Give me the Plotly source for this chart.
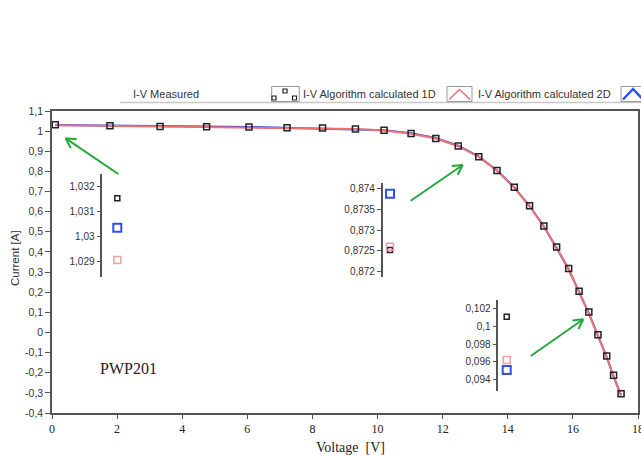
import math
import plotly.graph_objects as go

# ---- data -------------------------------------------------------------
voltage = [0.10, 1.78, 3.32, 4.75, 6.05, 7.22, 8.31, 9.32, 10.20, 11.03, 11.79, 12.48,
           13.11, 13.67, 14.20, 14.67, 15.11, 15.50, 15.87, 16.19, 16.49, 16.77, 17.04,
           17.25, 17.48]
current_measured = [1.03151, 1.027, 1.023, 1.022, 1.020, 1.017, 1.016, 1.011, 1.004, 0.988,
                    0.964, 0.926, 0.87252, 0.805, 0.721, 0.630, 0.529, 0.424, 0.318, 0.205,
                    0.10109, -0.011, -0.117, -0.213, -0.305]
current_1d = [1.02907, 1.026, 1.023, 1.020, 1.018, 1.016, 1.014, 1.010, 1.003, 0.987,
              0.963, 0.925, 0.87260, 0.804, 0.720, 0.628, 0.527, 0.421, 0.315, 0.201,
              0.09619, -0.016, -0.122, -0.218, -0.311]
current_2d = [1.03035, 1.029, 1.025, 1.023, 1.021, 1.017, 1.015, 1.011, 1.005, 0.990,
              0.966, 0.928, 0.87387, 0.805, 0.720, 0.628, 0.526, 0.420, 0.314, 0.200,
              0.09505, -0.017, -0.123, -0.219, -0.312]

series_names = ["I-V Measured", "I-V Algorithm calculated 1D", "I-V Algorithm calculated 2D"]

# close-up values (measured, 1D, 2D) at three points of the curve
detail_short_circuit = [1.03151, 1.02907, 1.03035]
detail_knee = [0.87252, 0.87260, 0.87387]
detail_tail = [0.10109, 0.09619, 0.09505]

x_ticks = list(range(0, 19, 2))
x_tick_text = [str(v) for v in x_ticks]
y_ticks = [-0.4, -0.3, -0.2, -0.1, 0, 0.1, 0.2, 0.3, 0.4, 0.5, 0.6, 0.7, 0.8, 0.9, 1.0, 1.1]
y_tick_text = ["-0,4", "-0,3", "-0,2", "-0,1", "0", "0,1", "0,2", "0,3", "0,4", "0,5",
               "0,6", "0,7", "0,8", "0,9", "1", "1,1"]
detail1_ticks = [1.029, 1.030, 1.031, 1.032]
detail1_text = ["1,029", "1,03", "1,031", "1,032"]
detail2_ticks = [0.872, 0.8725, 0.873, 0.8735, 0.874]
detail2_text = ["0,872", "0,8725", "0,873", "0,8735", "0,874"]
detail3_ticks = [0.094, 0.096, 0.098, 0.100, 0.102]
detail3_text = ["0,094", "0,096", "0,098", "0,1", "0,102"]

# ---- geometry helpers ----------------------------------------------------
W, H = 641, 455
L, R, T, B = 52, 638, 111, 413


def px(x):
    return (x - L) / (R - L)


def py(y):
    return (B - y) / (B - T)


SANS = "Liberation Sans"
SERIF = "Liberation Serif"
AX = "#555555"
TXT = "#333333"
RED = "#f07070"
BLUE = "#2f4ff0"
PINK = "#f0a0a0"
GREEN = "#22a83a"

fig = go.Figure()

fig.add_trace(go.Scatter(x=voltage, y=current_2d, mode="lines", name=series_names[2],
                         line=dict(color=BLUE, width=2), showlegend=False))
fig.add_trace(go.Scatter(x=voltage, y=current_1d, mode="lines", name=series_names[1],
                         line=dict(color=RED, width=2), showlegend=False))
fig.add_trace(go.Scatter(x=voltage, y=current_measured, mode="markers", name=series_names[0],
                         marker=dict(symbol="square-open", size=6, color="#222222",
                                     line=dict(width=1.5)), showlegend=False))

# close-up axes: (values, xaxis id, yaxis id, axis x px, marker offset px, top px, bottom px, ticks, texts)
details = [
    (detail_short_circuit, "x2", "y2", 102.3, 15.0, 174, 277, detail1_ticks, detail1_text),
    (detail_knee, "x3", "y3", 382.7, 7.3, 182.7, 276.7, detail2_ticks, detail2_text),
    (detail_tail, "x4", "y4", 498.3, 8.4, 300, 390.7, detail3_ticks, detail3_text),
]
# pixel positions of the outer tick values, used to get each close-up's range
tick_px = [(186.0, 261.7), (188.3, 271.7), (308.7, 379.3)]

marker_styles = [
    dict(symbol="square-open", size=5, color="#222222", line=dict(width=1.5)),
    dict(symbol="square-open", size=7, color=PINK, line=dict(width=1.5)),
    dict(symbol="square-open", size=8, color=BLUE, line=dict(width=2)),
]

layout_axes = {}
for i, (vals, xa, ya, axpx, off, top, bot, tv, tt) in enumerate(details):
    for j, v in enumerate(vals):
        fig.add_trace(go.Scatter(x=[0.5], y=[v], xaxis=xa, yaxis=ya, mode="markers",
                                 marker=marker_styles[j], showlegend=False,
                                 name=series_names[j]))
    hi_px, lo_px = tick_px[i]
    hi_v, lo_v = tv[-1], tv[0]
    per_px = (hi_v - lo_v) / (lo_px - hi_px)
    rng = [lo_v - (bot - lo_px) * per_px, hi_v + (hi_px - top) * per_px]
    n = xa[1:]
    layout_axes["xaxis" + n] = dict(domain=[px(axpx), px(axpx + 2 * off)], range=[0, 1],
                                    visible=False, anchor=ya)
    layout_axes["yaxis" + n] = dict(domain=[py(bot), py(top)], range=rng, anchor=xa,
                                    showline=True, linecolor=AX, linewidth=1.5,
                                    ticks="outside", ticklen=4, tickcolor=AX,
                                    tickvals=tv, ticktext=tt, showgrid=False,
                                    zeroline=False, automargin=False,
                                    tickfont=dict(family=SANS, size=10, color=TXT))

shapes = []
annotations = []


def seg(x0, y0, x1, y1, color, width):
    shapes.append(dict(type="line", xref="paper", yref="paper",
                       x0=px(x0), y0=py(y0), x1=px(x1), y1=py(y1),
                       line=dict(color=color, width=width), layer="above"))


def arrow(xt, yt, xh, yh):
    seg(xt, yt, xh, yh, GREEN, 2)
    dx, dy = xt - xh, yt - yh
    d = math.hypot(dx, dy)
    ux, uy = dx / d, dy / d
    for a in (0.5, -0.5):
        ca, sa = math.cos(a), math.sin(a)
        rx, ry = ux * ca - uy * sa, ux * sa + uy * ca
        seg(xh, yh, xh + 11 * rx, yh + 11 * ry, GREEN, 2)


arrow(118.3, 174, 65.7, 138.3)
arrow(410.7, 200.7, 462.7, 165)
arrow(530.7, 356, 583.3, 319.3)

# legend strip above the plot
seg(120, 102.5, 641, 102.5, "#c8c8c8", 1.5)


def box(x0, y0, x1, y1):
    shapes.append(dict(type="rect", xref="paper", yref="paper",
                       x0=px(x0), y0=py(y1), x1=px(x1), y1=py(y0),
                       line=dict(color="#999999", width=1), fillcolor="white",
                       layer="above"))


def small_sq(cx, cy):
    shapes.append(dict(type="rect", xref="paper", yref="paper",
                       x0=px(cx - 2), y0=py(cy + 2), x1=px(cx + 2), y1=py(cy - 2),
                       line=dict(color="#222222", width=1.2), fillcolor="white",
                       layer="above"))


box(271.7, 86.5, 299.3, 101.5)
small_sq(274, 98)
small_sq(285, 91)
small_sq(294.5, 98)

box(447, 86.5, 472, 101.5)
shapes.append(dict(type="path", xref="paper", yref="paper", layer="above",
                   path="M %f,%f L %f,%f L %f,%f" % (px(449), py(99.5), px(459.5), py(89.5),
                                                      px(470), py(99.5)),
                   line=dict(color=RED, width=1.5)))
box(621, 86.5, 660, 101.5)
shapes.append(dict(type="path", xref="paper", yref="paper", layer="above",
                   path="M %f,%f L %f,%f L %f,%f" % (px(623), py(99.5), px(633), py(89),
                                                      px(643), py(99.5)),
                   line=dict(color=BLUE, width=2.5)))

for name, x0 in zip(series_names, [130.5, 301, 476.3]):
    annotations.append(dict(text=name, xref="paper", yref="paper", x=px(x0), y=py(93.5),
                            xanchor="left", yanchor="middle", showarrow=False,
                            font=dict(family=SANS, size=11, color=TXT)))

annotations.append(dict(text="Current [A]", xref="paper", yref="paper", x=px(15), y=py(258),
                        textangle=-90, showarrow=False, xanchor="center", yanchor="middle",
                        font=dict(family=SANS, size=11.5, color=TXT)))
annotations.append(dict(text="Voltage  [V]", xref="paper", yref="paper", x=px(350), y=py(447),
                        showarrow=False, xanchor="center", yanchor="middle",
                        font=dict(family=SERIF, size=14, color="#222222")))
annotations.append(dict(text="PWP201", xref="paper", yref="paper", x=px(98), y=py(368),
                        showarrow=False, xanchor="left", yanchor="middle",
                        font=dict(family=SERIF, size=16, color="#222222")))
# descenders of the page text running above the figure
for ch, xc in (("g", 428), ("p", 545)):
    annotations.append(dict(text=ch, xref="paper", yref="paper", x=px(xc), y=py(-1),
                            showarrow=False, xanchor="center", yanchor="bottom",
                            borderpad=0, font=dict(family=SERIF, size=22, color="#222222")))

fig.update_layout(
    width=W, height=H,
    margin=dict(l=L, r=W - R, t=T, b=H - B, pad=0, autoexpand=False),
    paper_bgcolor="white", plot_bgcolor="white",
    showlegend=False,
    xaxis=dict(range=[0, 18], tickvals=x_ticks, ticktext=x_tick_text, showgrid=False,
               zeroline=False, showline=True, linecolor=AX, linewidth=1.5, mirror=True,
               ticks="outside", ticklen=4, tickcolor=AX, ticklabeloverflow="allow",
               automargin=False,
               tickfont=dict(family=SERIF, size=12, color="#222222")),
    yaxis=dict(range=[-0.4, 1.1], tickvals=y_ticks, ticktext=y_tick_text, showgrid=False,
               zeroline=False, showline=True, linecolor=AX, linewidth=1.5, mirror=True,
               ticks="outside", ticklen=5, tickcolor=AX, automargin=False,
               tickfont=dict(family=SANS, size=10.5, color=TXT)),
    shapes=shapes,
    annotations=annotations,
    **layout_axes,
)

fig.write_html("out.html")
